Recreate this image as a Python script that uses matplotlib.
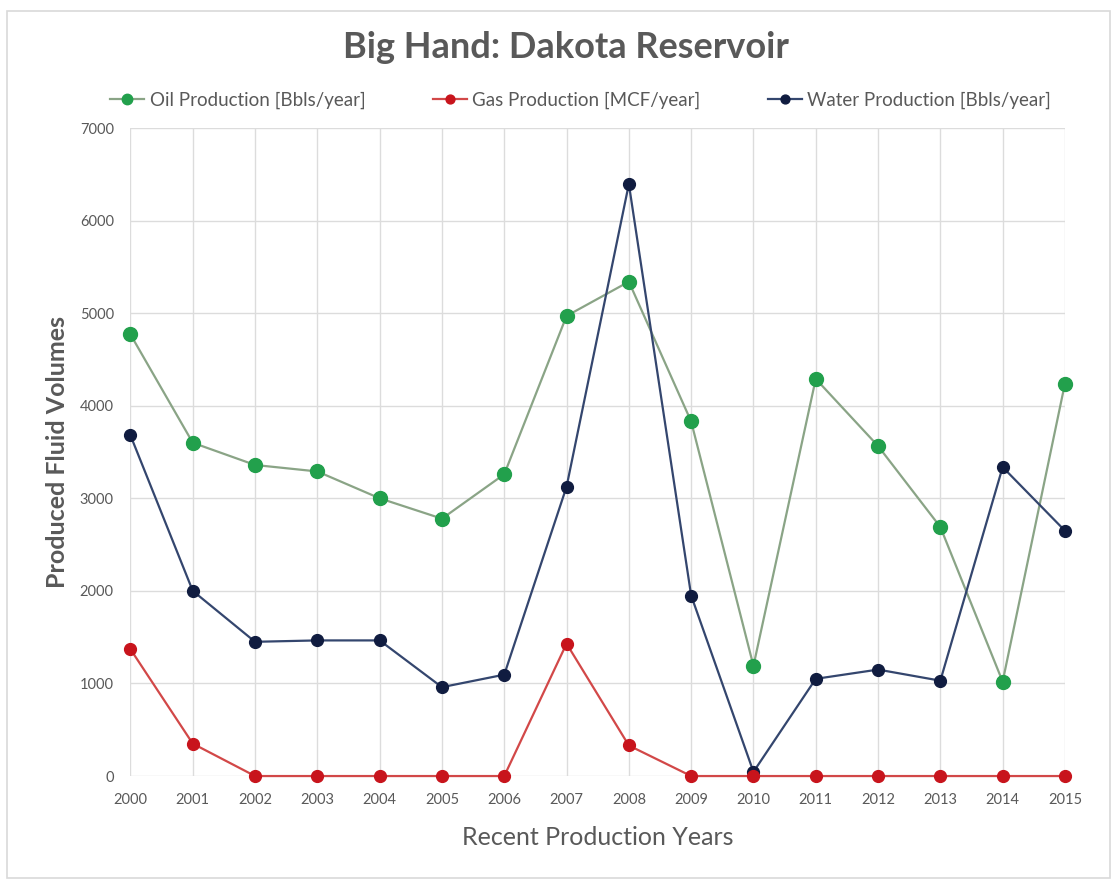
import matplotlib.pyplot as plt
from matplotlib.patches import Rectangle

# Datos
years = [2000, 2001, 2002, 2003, 2004, 2005, 2006, 2007,
         2008, 2009, 2010, 2011, 2012, 2013, 2014, 2015]
oil = [4770, 3600, 3360, 3290, 3000, 2780, 3260, 4970,
       5340, 3830, 1190, 4290, 3565, 2690, 1020, 4240]
gas = [1370, 350, 0, 0, 0, 0, 0, 1430,
       330, 0, 0, 0, 0, 0, 0, 0]
water = [3680, 2000, 1450, 1465, 1465, 960, 1095, 3125,
         6395, 1950, 45, 1050, 1150, 1030, 3337, 2650]

labels = ['Oil Production [Bbls/year]', 'Gas Production [MCF/year]',
          'Water Production [Bbls/year]']

plt.rcParams['font.family'] = ['Lato', 'DejaVu Sans']
text_color = '#595959'

fig = plt.figure(figsize=(11.17, 8.92), dpi=100)
ax = fig.add_axes([0.1168, 0.130, 0.8366, 0.7265])

ax.plot(years, oil, '-o', color='#8aa486', lw=1.6, markersize=10, clip_on=False,
        markerfacecolor='#22a04c', markeredgecolor='#22a04c', label=labels[0], zorder=3)
ax.plot(years, gas, '-o', color='#d24848', lw=1.6, markersize=8.5, clip_on=False,
        markerfacecolor='#c8141c', markeredgecolor='#c8141c', label=labels[1], zorder=4)
ax.plot(years, water, '-o', color='#34466e', lw=1.6, markersize=8.5, clip_on=False,
        markerfacecolor='#101c40', markeredgecolor='#101c40', label=labels[2], zorder=3)

ax.set_xlim(2000, 2015)
ax.set_ylim(0, 7000)
ax.set_xticks(years)
ax.set_yticks(range(0, 7001, 1000))
ax.grid(True, color='#dcdcdc', lw=1)
ax.set_axisbelow(True)
for s in ax.spines.values():
    s.set_visible(False)
ax.tick_params(length=0, labelsize=10.5, labelcolor=text_color, pad=12)

ax.set_xlabel('Recent Production Years', fontsize=18, color=text_color, labelpad=14)
ax.set_ylabel('Produced Fluid Volumes', fontsize=18, color=text_color,
              fontweight='bold', labelpad=8)

fig.text(0.507, 0.947, 'Big Hand: Dakota Reservoir', ha='center', va='center',
         fontsize=26, fontweight='bold', color=text_color)

fig.legend(loc='center', bbox_to_anchor=(0.52, 0.888), ncol=3, frameon=False,
           fontsize=13.5, handlelength=1.8, columnspacing=3.6, handletextpad=0.3,
           markerscale=0.75, labelcolor=text_color)

# borde exterior
fig.patches.append(Rectangle((0.006, 0.016), 0.988, 0.972, transform=fig.transFigure,
                             fill=False, edgecolor='#d9d9d9', lw=1.2))

fig.savefig('out.png', dpi=100)
